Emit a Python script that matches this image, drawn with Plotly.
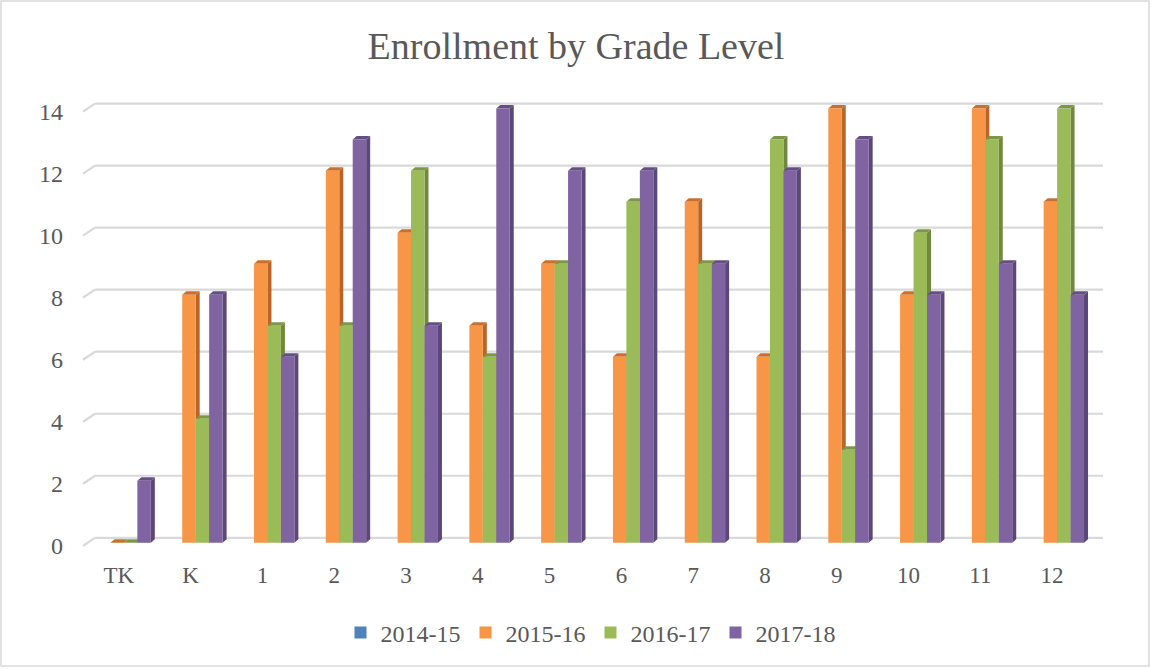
import plotly.graph_objects as go

grades = ["TK", "K", "1", "2", "3", "4", "5", "6", "7", "8", "9", "10", "11", "12"]
series_names = ["2014-15", "2015-16", "2016-17", "2017-18"]
v_2014_15 = [0, 0, 0, 0, 0, 0, 0, 0, 0, 0, 0, 0, 0, 0]
v_2015_16 = [0, 8, 9, 12, 10, 7, 9, 6, 11, 6, 14, 8, 14, 11]
v_2016_17 = [0, 4, 7, 7, 12, 6, 9, 11, 9, 13, 3, 10, 13, 14]
v_2017_18 = [2, 8, 6, 13, 7, 14, 12, 12, 9, 12, 13, 8, 9, 8]
y_ticks = [0, 2, 4, 6, 8, 10, 12, 14]

all_values = [v_2014_15, v_2015_16, v_2016_17, v_2017_18]
front_colors = ["#4F81BD", "#F79646", "#9BBB59", "#8064A2"]
side_colors = ["#3A6191", "#B9652A", "#71893F", "#5B4778"]
top_colors = ["#3F6A9E", "#C9702F", "#7C9846", "#644E84"]

FONT = "Liberation Serif"
TXT = "#595959"

W, H = 1152, 669
ml, mr, mt, mb = 88, 59, 90, 120
pw = W - ml - mr
ph = H - mt - mb
ymin, ymax = -0.2, 14.6
px_x = pw / len(grades)
px_y = ph / (ymax - ymin)

bargap = 0.25
bw = (1 - bargap) / 4
dx = 4.0 / px_x
dy = 3.5 / px_y

xs = list(range(len(grades)))
fig = go.Figure()
for i, (name, vals) in enumerate(zip(series_names, all_values)):
    fig.add_trace(go.Bar(x=xs, y=vals, name=name, marker=dict(color=front_colors[i], line=dict(width=0))))

shapes = []
def px2paper(px):
    return (px - ml) / pw
def py2paper(py):
    return (mt + ph - py) / ph
gdy = 5.0 / px_y
fdy = 3.0 / px_y
for t in y_ticks:
    shapes.append(dict(type="line", xref="paper", yref="y", x0=px2paper(95), x1=px2paper(1103),
                       y0=t + gdy, y1=t + gdy, line=dict(color="#D9D9D9", width=2.2), layer="below"))
    shapes.append(dict(type="line", xref="paper", yref="y", x0=px2paper(83), x1=px2paper(95),
                       y0=t - fdy, y1=t + gdy, line=dict(color="#D9D9D9", width=2.2), layer="below"))

for i, vals in enumerate(all_values):
    if i == 0:
        continue
    for j, v in enumerate(vals):
        xc = j - (1 - bargap) / 2 + (i + 0.5) * bw
        left, right = xc - bw / 2, xc + bw / 2
        if v > 0:
            shapes.append(dict(type="path", xref="x", yref="y",
                               path=f"M {right},0 L {right},{v} L {right+dx},{v+dy} L {right+dx},{dy} Z",
                               fillcolor=side_colors[i], line=dict(width=0), layer="between"))
        shapes.append(dict(type="path", xref="x", yref="y",
                           path=f"M {left},{v} L {right},{v} L {right+dx},{v+dy} L {left+dx},{v+dy} Z",
                           fillcolor=top_colors[i], line=dict(width=0), layer="between"))

shapes.append(dict(type="rect", xref="paper", yref="paper",
                   x0=px2paper(1), x1=px2paper(1149),
                   y0=py2paper(666), y1=py2paper(1),
                   line=dict(color="#D9D9D9", width=1.5), fillcolor="rgba(0,0,0,0)", layer="below"))

x_shift = 5.0 / px_x
fig.update_layout(
    width=W, height=H,
    margin=dict(l=ml, r=mr, t=mt, b=mb),
    paper_bgcolor="white", plot_bgcolor="white",
    barmode="group", bargap=bargap, bargroupgap=0,
    title=dict(text="Enrollment by Grade Level", x=0.5, xref="container", xanchor="center",
               y=1 - 46 / H, yanchor="middle", yref="container",
               font=dict(family=FONT, size=38, color=TXT)),
    font=dict(family=FONT, color=TXT),
    xaxis=dict(range=[-0.5, len(grades) - 0.5], tickmode="array",
               tickvals=[x - x_shift for x in xs], ticktext=grades,
               showgrid=False, zeroline=False, showline=False, ticks="",
               tickfont=dict(family=FONT, size=23, color=TXT), ticklabelstandoff=10),
    yaxis=dict(range=[ymin, ymax], tickmode="array", tickvals=[t - fdy for t in y_ticks],
               ticktext=[str(t) for t in y_ticks], showgrid=False, zeroline=False,
               showline=False, ticks="", tickfont=dict(family=FONT, size=24, color=TXT),
               ticklabelstandoff=24),
    legend=dict(orientation="h", x=0.5, xanchor="center", y=py2paper(633), yanchor="middle",
                font=dict(family=FONT, size=24, color=TXT), itemwidth=30, traceorder="normal"),
    shapes=shapes,
    showlegend=True,
)

fig.write_html("out.html", config={"displayModeBar": False},
               post_script="document.body.style.margin='0';document.body.style.overflow='hidden';")
